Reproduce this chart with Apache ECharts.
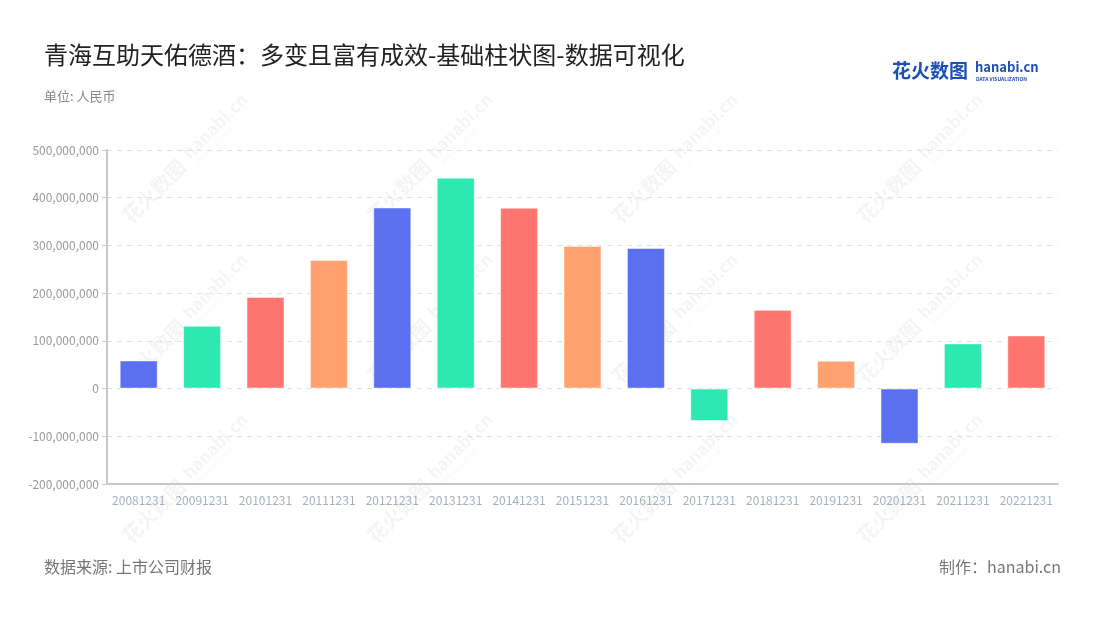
<!DOCTYPE html>
<html><head><meta charset="utf-8">
<script src="https://cdn.jsdelivr.net/npm/echarts@6/dist/echarts.min.js"></script>
<style>html,body{margin:0;padding:0;background:#fff}#c{width:1100px;height:620px}</style>
</head><body><div id="c"></div>
<script>
const categories = ["20081231","20091231","20101231","20111231","20121231","20131231","20141231","20151231","20161231","20171231","20181231","20191231","20201231","20211231","20221231"];
const values = [59000000,131600000,192000000,269500000,379500000,442000000,379000000,299000000,294500000,-68000000,165000000,58500000,-115600000,94700000,111400000];
const palette = ["#5a70ee","#2ee8b2","#ff7670","#ffa26f"];
const yTicks = {min:-200000000, max:500000000, interval:100000000};

const FONT = '"Noto Sans CJK SC","Noto Sans",sans-serif';
const chart = echarts.init(document.getElementById('c'), null, {renderer:'canvas'});

const wm = [];
const wmX = [175, 420, 665, 910];
const wmY = [170, 330, 490];
const wmc = 'rgba(0,0,0,0.045)';
wmY.forEach(y => wmX.forEach(x => {
  wm.push({type:'group', x:x, y:y, rotation:Math.PI/4, z:100, silent:true, children:[
    {type:'text', style:{text:'花火数图', x:-70, y:0, font:'bold 20px '+FONT, fill:wmc, textVerticalAlign:'middle'}},
    {type:'text', style:{text:'hanabi.cn', x:18, y:-3, font:'bold 17px '+FONT, fill:wmc, textVerticalAlign:'middle'}},
    {type:'text', style:{text:'DATA VISUALIZATION', x:20, y:11, font:'5px '+FONT, fill:wmc, textVerticalAlign:'middle'}}
  ]});
}));

chart.setOption({
  backgroundColor:'#fff',
  animation:false,
  title:[
    {text:'青海互助天佑德酒：多变且富有成效-基础柱状图-数据可视化', left:44, top:43, padding:0,
     textStyle:{fontFamily:FONT, fontSize:24, fontWeight:'normal', color:'#222'}},
    {text:'单位: 人民币', left:44, top:90, padding:0, textStyle:{fontFamily:FONT, fontSize:13, fontWeight:'normal', color:'#888'}},
    {text:'数据来源: 上市公司财报', left:44, top:559, padding:0, textStyle:{fontFamily:FONT, fontSize:16, fontWeight:'normal', color:'#777'}},
    {text:'制作：hanabi.cn', right:39, top:559, padding:0, textStyle:{fontFamily:FONT, fontSize:16, fontWeight:'normal', color:'#777'}}
  ],
  graphic:[
    {type:'text', left:892, top:61, style:{text:'花火数图', font:'bold 19px '+FONT, fill:'#1d4fb8'}},
    {type:'text', left:975, top:61, style:{text:'hanabi.cn', font:'bold 13px '+FONT, fill:'#1d4fb8'}},
    {type:'text', left:976, top:77, style:{text:'DATA VISUALIZATION', font:'bold 5px '+FONT, fill:'#1d4fb8'}}
  ].concat(wm),
  grid:{left:107, right:42, top:150, bottom:136, containLabel:false},
  xAxis:{type:'category', data:categories,
    axisLine:{onZero:false, lineStyle:{color:'#c8c8c8', width:2}},
    axisTick:{alignWithLabel:true, lineStyle:{color:'#c8c8c8'}},
    axisLabel:{color:'#a9afbd', fontSize:12, fontFamily:FONT, interval:0, margin:10}},
  yAxis:{type:'value', min:yTicks.min, max:yTicks.max, interval:yTicks.interval,
    axisLine:{show:true, lineStyle:{color:'#c8c8c8', width:2}},
    axisTick:{show:true, lineStyle:{color:'#c8c8c8'}},
    splitLine:{lineStyle:{color:'#e0e0e0', type:[5,5]}},
    axisLabel:{color:'#9a9a9a', fontSize:12, fontFamily:FONT,
      formatter:v=>v.toLocaleString('en-US')}},
  series:[{type:'bar', barWidth:'60%',
    data:values.map((v,i)=>({value:v, itemStyle:{color:palette[i%4], borderColor:'rgba(255,255,255,0.5)', borderWidth:1}}))}]
});
</script></body></html>
